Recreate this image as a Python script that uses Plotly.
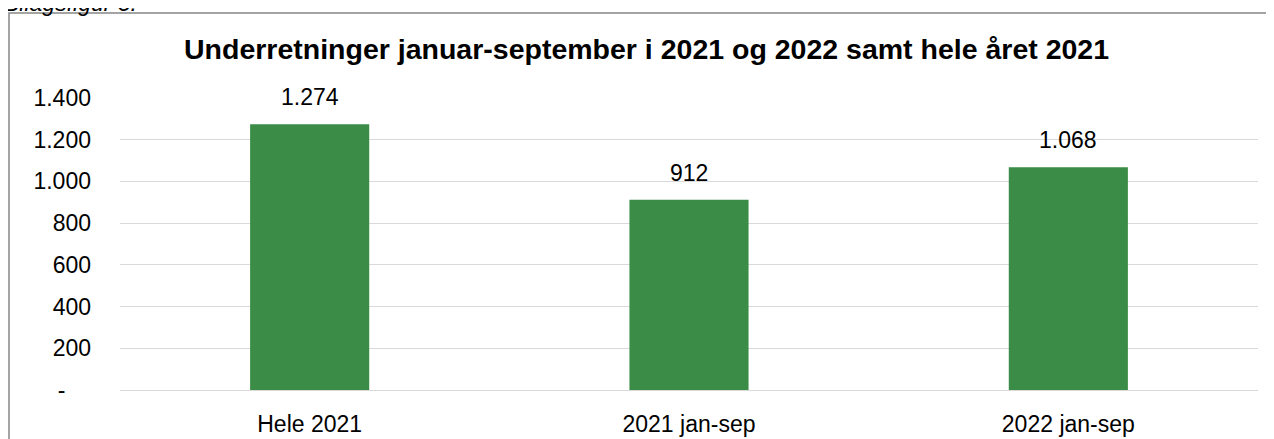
import plotly.graph_objects as go

categories = ["Hele 2021", "2021 jan-sep", "2022 jan-sep"]
values = [1274, 912, 1068]
tick_vals = [0, 200, 400, 600, 800, 1000, 1200, 1400]
tick_text = ["-\u2007\u2007", "200", "400", "600", "800", "1.000", "1.200", "1.400"]
title_text = "Underretninger januar-september i 2021 og 2022 samt hele året 2021"
caption_text = "Bilagsfigur 3:"

# the page body adds an 8px offset; positions below are in window pixels
OFF = 8
W, H = 1274 - OFF, 439 - OFF
L, R, T, B = 120 - OFF, W - (1258 - OFF), 98 - OFF, H - (390 - OFF)
pw, ph = W - L - R, H - T - B

def px_x(x):
    return (x - OFF - L) / pw

def px_y(y):
    return (H - B - (y - OFF)) / ph

FONT = "Liberation Sans, Arial, sans-serif"
GREEN = "#3A8C46"

fig = go.Figure()
fig.add_trace(go.Bar(
    x=categories, y=values, marker=dict(color=GREEN, line=dict(width=0)),
    width=0.314, hoverinfo="skip",
))

for c, v in zip(categories, values):
    fig.add_annotation(
        x=c, y=v, xref="x", yref="y", text=f"{v:,}".replace(",", "."),
        showarrow=False, yanchor="bottom", yshift=12,
        font=dict(family=FONT, size=23, color="#000000"),
    )

fig.add_annotation(
    x=px_x(646), y=px_y(49), xref="paper", yref="paper", text=f"<b>{title_text}</b>",
    showarrow=False, xanchor="center", yanchor="middle",
    font=dict(family=FONT, size=28.5, color="#000000"),
)
fig.add_annotation(
    x=px_x(2), y=px_y(3), xref="paper", yref="paper", text=f"<i>{caption_text}</i>",
    showarrow=False, xanchor="left", yanchor="middle",
    font=dict(family=FONT, size=23, color="#000000"),
)

fig.add_shape(
    type="rect", xref="paper", yref="paper",
    x0=px_x(9), x1=px_x(1300), y0=px_y(470), y1=px_y(13),
    line=dict(color="#878787", width=1.5), fillcolor="rgba(0,0,0,0)", layer="below",
)

fig.update_layout(
    template="none",
    width=W, height=H,
    margin=dict(l=L, r=R, t=T, b=B, pad=0, autoexpand=False),
    paper_bgcolor="white", plot_bgcolor="white",
    showlegend=False, separators=",.",
    font=dict(family=FONT, size=23, color="#000000"),
)
fig.update_xaxes(
    automargin=False,
    showgrid=False, showline=False, zeroline=False, ticks="",
    tickfont=dict(family=FONT, size=23, color="#000000"),
    ticklabelstandoff=18,
)
fig.update_yaxes(
    automargin=False,
    range=[0, 1400], tickvals=tick_vals, ticktext=tick_text,
    showgrid=True, gridcolor="#D9D9D9", gridwidth=1.3,
    zeroline=True, zerolinecolor="#D9D9D9", zerolinewidth=1.3,
    showline=False, ticks="",
    tickfont=dict(family=FONT, size=23, color="#000000"),
    ticklabelstandoff=28,
)

fig.write_html("out.html")
